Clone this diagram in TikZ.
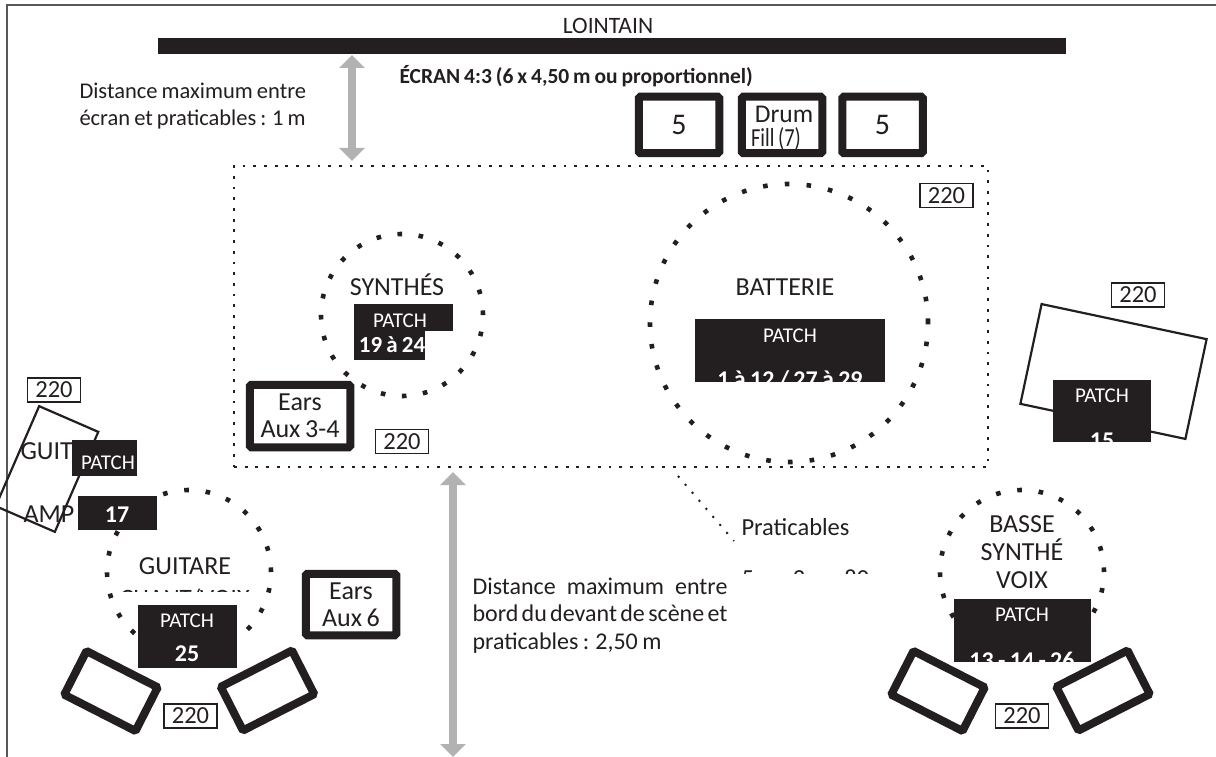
\documentclass[tikz,border=0pt]{standalone}
\usepackage{fontspec}
\usepackage{graphicx}
\setmainfont[WordSpace=0.8]{Carlito}
\usetikzlibrary{arrows.meta}
\definecolor{ink}{HTML}{231F20}
\definecolor{arrowgrey}{HTML}{B2B2B2}
\begin{document}
\begin{tikzpicture}[x = 1pt, y = 1pt, line width = 1pt,
                    every node/.style = {text = ink, font = \fontsize{26}{27.5}\selectfont, inner sep = 0pt},
                    patchbox/.style = {rectangle, fill = ink},
                    patchtxt/.style = {text = white, font = \fontsize{21}{24}\selectfont},
                    patchnum/.style = {text = white, font = \fontsize{24}{28}\selectfont\bfseries},
                    plug/.style = {rectangle, draw = ink, line width = 1.6pt, fill = white, minimum width = 53pt, minimum height = 24pt, font = \fontsize{24.5}{28}\selectfont},
                    wedge/.style = {rectangle, draw = ink, line width = 8pt, fill = white, rounded corners = 1.5pt, align = center},
                    amp/.style = {rectangle, draw = ink, line width = 2.2pt},
                    ring/.style = {draw = ink, line width = 4.6pt, dash pattern = on 4.6pt off #1},
                    rim/.style = {draw = ink, line width = 2.8pt, dash pattern = on 2.8pt off 7.9pt},
                    gap/.style = {draw = arrowgrey, line width = 8pt, {Triangle[length = 13pt, width = 25pt]}-{Triangle[length = 13pt, width = 25pt]}}]
  \useasboundingbox (0,0) rectangle (1216,-757);
  \draw [draw = ink!75, line width = 1.5pt] (7,-757) -- (7,-5) -- (1216,-5);

  % fond de scene
  \node [font = \fontsize{23.5}{28}\selectfont] (lointain) at (608,-26) {LOINTAIN};
  \node [patchbox, minimum width = 908pt, minimum height = 16pt] (screen) at (612,-46) {};
  \node [anchor = west, font = \fontsize{21.5}{24}\selectfont\bfseries] (ecran) at (399,-76) {ÉCRAN 4:3 (6 x 4,50 m ou proportionnel)};
  \node [anchor = west, align = left, font = \fontsize{22.5}{27}\selectfont] (distA) at (79,-106) {Distance maximum entre\\écran et praticables : 1 m};
  \coordinate (gapAtop) at (352,-55);
  \coordinate (gapAbot) at (352,-161);
  \draw [gap] (gapAtop) -- (gapAbot);

  \node [wedge, minimum width = 80.5pt, minimum height = 56.5pt] (sideL) at (679,-125) {\fontsize{30}{32}\selectfont 5};
  \node [wedge, minimum width = 80.5pt, minimum height = 56.5pt] (drum) at (782,-125) {};
  \node [wedge, minimum width = 80.5pt, minimum height = 56.5pt] (sideR) at (882.5,-125) {\fontsize{30}{32}\selectfont 5};
  \node (drumA) at (784,-114) {\fontsize{25.5}{28}\selectfont Drum};
  \node (drumB) at (776,-139) {\scalebox{0.785}[1]{\fontsize{26}{28}\selectfont Fill (7)}};

  % praticables
  \node [rectangle, rim, minimum width = 754pt, minimum height = 301pt] (riser) at (611,-316.5) {};
  \node [plug] (plugD) at (946.5,-195.5) {220};
  \node [plug] (plugS) at (402,-441.5) {220};

  % synthes
  \coordinate (synthC) at (402,-315);
  \draw [ring = 16.6pt] (synthC) circle (81);
  \node (synth) at (397,-285) {SYNTHÉS};
  \node [patchbox, minimum width = 99pt, minimum height = 27pt] (patchSa) at (403.5,-317.5) {};
  \node [patchbox, minimum width = 71pt, minimum height = 29pt] (patchSb) at (389.5,-345.5) {};
  \node [patchtxt] (patchSt) at (400,-321) {PATCH};
  \node [patchnum, font = \fontsize{23}{28}\selectfont\bfseries] (patchSn) at (392,-345) {19 à 24};
  \node [wedge, minimum width = 100.5pt, minimum height = 62.5pt] (earsS) at (300,-416) {Ears\\Aux 3-4\hspace{16pt}};

  % batterie
  \coordinate (drumC) at (789,-323);
  \draw [ring = 17.2pt] (drumC) circle (139);
  \node (batt) at (785,-287) {BATTERIE};
  \node [patchbox, minimum width = 190pt, minimum height = 63pt] (patchD) at (790,-350.5) {};
  \node [patchtxt] (patchDt) at (790,-336) {PATCH};
  \begin{scope}
    \clip (patchD.south west) rectangle (patchD.north east);
    \node [patchnum] (patchDn) at (790,-380) {1 à 12 / 27 à 29};
  \end{scope}

  % ampli cour
  \node [amp, rotate = -12, minimum width = 168.7pt, minimum height = 102pt] (ampR) at (1113.5,-371.5) {};
  \node [plug] (plugR) at (1138,-295) {220};
  \node [patchbox, minimum width = 98pt, minimum height = 62pt] (patchR) at (1102,-411) {};
  \node [patchtxt] (patchRt) at (1102,-396) {PATCH};
  \begin{scope}
    \clip (patchR.south west) rectangle (patchR.north east);
    \node [patchnum] (patchRn) at (1102,-441) {15};
  \end{scope}

  % renvoi praticables
  \coordinate (noteA) at (678,-476);
  \coordinate (noteB) at (734,-541);
  \draw [draw = ink, line width = 2pt, dash pattern = on 2pt off 8.6pt] (noteA) -- (noteB);
  \node [anchor = west, font = \fontsize{24.5}{28}\selectfont] (prat) at (741,-527) {Praticables};
  \begin{scope}
    \clip (730,-560) rectangle (880,-573);
    \node [anchor = west, font = \fontsize{24.5}{28}\selectfont] (pratdim) at (741,-578) {5m x 2m x 80};
  \end{scope}

  % guitare
  \node [amp, rotate = -23.5, minimum width = 64.5pt, minimum height = 109pt] (ampL) at (47,-469) {};
  \node [plug] (plugA) at (54,-390) {220};
  \node [anchor = west] (guit) at (20,-451) {GUIT};
  \node [anchor = west] (ampt) at (23,-514) {AMP};
  \node [patchbox, minimum width = 65pt, minimum height = 36pt] (patchA) at (104.5,-458) {};
  \node [patchtxt] (patchAt) at (108,-463) {PATCH};
  \coordinate (guitC) at (189,-572);
  \draw [ring = 16.9pt] (guitC) circle (82);
  \node [patchbox, minimum width = 79pt, minimum height = 34pt] (patchB) at (117.5,-513) {};
  \node [patchnum] (patchBn) at (117,-515) {17};
  \node (guitare) at (185,-566) {GUITARE};
  \begin{scope}
    \clip (100,-580) rectangle (270,-591);
    \node [font = \fontsize{25}{28}\selectfont] (chant) at (185,-598) {CHANT/VOIX};
  \end{scope}
  \node [patchbox, minimum width = 99pt, minimum height = 63pt] (patchG) at (187.5,-636.5) {};
  \node [patchtxt] (patchGt) at (187,-621) {PATCH};
  \node [patchnum] (patchGn) at (187,-654) {25};
  \node [wedge, minimum width = 90.5pt, minimum height = 61.5pt] (earsG) at (351,-604.5) {Ears\\Aux 6\hspace{14pt}};
  \node [wedge, rotate = -27, minimum width = 80pt, minimum height = 49pt] (monA) at (111,-691) {};
  \node [wedge, rotate = 27, minimum width = 80pt, minimum height = 49pt] (monB) at (267.5,-690.5) {};
  \node [plug] (plugG) at (190.5,-716) {220};

  % ecart devant de scene
  \coordinate (gapBtop) at (453,-472);
  \coordinate (gapBbot) at (453,-757);
  \draw [gap] (gapBtop) -- (gapBbot);
  \node [anchor = north west, align = left, font = \fontsize{24}{27.5}\selectfont] (distB) at (472,-577) {\makebox[255pt][s]{Distance maximum entre}\\\makebox[255pt][s]{bord du devant de scène et}\\praticables : 2,50 m};

  % basse
  \coordinate (bassC) at (1022,-572);
  \draw [ring = 16.9pt] (bassC) circle (82);
  \node [align = center, font = \fontsize{26}{28}\selectfont] (basse) at (1022,-552) {BASSE\\SYNTHÉ\\VOIX};
  \node [patchbox, minimum width = 137pt, minimum height = 63pt] (patchB2) at (1022.5,-630.5) {};
  \node [patchtxt] (patchB2t) at (1022,-615) {PATCH};
  \begin{scope}
    \clip (patchB2.south west) rectangle (patchB2.north east);
    \node [patchnum] (patchB2n) at (1022,-660) {13 - 14 - 26};
  \end{scope}
  \node [wedge, rotate = -27, minimum width = 80pt, minimum height = 49pt] (monC) at (938,-691) {};
  \node [wedge, rotate = 27, minimum width = 80pt, minimum height = 49pt] (monD) at (1103,-690.5) {};
  \node [plug] (plugB) at (1022,-716) {220};
\end{tikzpicture}
\end{document}
